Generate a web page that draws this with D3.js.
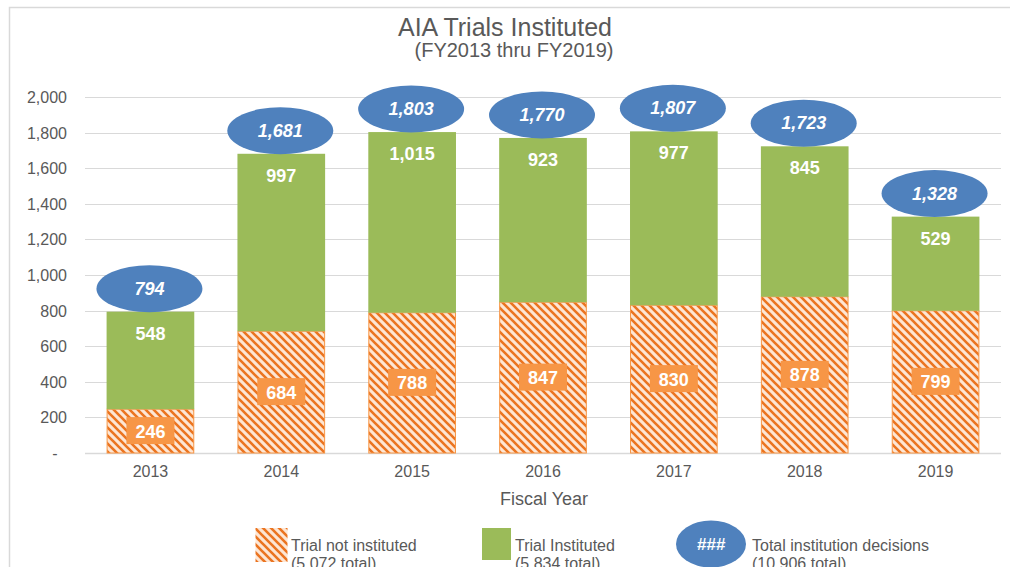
<!DOCTYPE html>
<html>
<head>
<meta charset="utf-8">
<script src="https://cdn.jsdelivr.net/npm/d3@7"></script>
<style>
  body { margin: 0; background: #fff; }
  svg { display: block; font-family: "Liberation Sans", Arial, sans-serif; }
</style>
</head>
<body>
<div id="chart"></div>
<script>
// data
var years = ["2013", "2014", "2015", "2016", "2017", "2018", "2019"];
var notInstituted = [246, 684, 788, 847, 830, 878, 799];
var instituted = [548, 997, 1015, 923, 977, 845, 529];
var totals = [794, 1681, 1803, 1770, 1807, 1723, 1328];
var yTicks = [0, 200, 400, 600, 800, 1000, 1200, 1400, 1600, 1800, 2000];
var legendItems = [
  {key: "not", line1: "Trial not instituted", line2: "(5,072 total)"},
  {key: "inst", line1: "Trial Instituted", line2: "(5,834 total)"},
  {key: "total", line1: "Total institution decisions", line2: "(10,906 total)"}
];

var W = 1010, H = 567;
var margin = {top: 97, right: 9, bottom: 114, left: 85};
var green = "#9bbb59", blue = "#4f81bd", orange = "#f79646",
    stripe = "#eb7420", peach = "#fde6d4", grid = "#d9d9d9", text = "#595959";

var svg = d3.select("#chart").append("svg")
  .attr("width", W)
  .attr("height", H);

var defs = svg.append("defs");
var pat = defs.append("pattern")
  .attr("id", "hatch")
  .attr("patternUnits", "userSpaceOnUse")
  .attr("width", 8)
  .attr("height", 8);
pat.append("rect").attr("width", 8).attr("height", 8).attr("fill", peach);
pat.append("path")
  .attr("d", "M-2,-2 L10,10 M-2,6 L2,10 M6,-2 L10,2")
  .attr("stroke", stripe)
  .attr("stroke-width", 2.6);

// outer frame
svg.append("rect")
  .attr("x", 9.5).attr("y", 7.5)
  .attr("width", W + 10).attr("height", H + 10)
  .attr("fill", "none")
  .attr("stroke", grid)
  .attr("stroke-width", 1.5);

// titles
svg.append("text")
  .attr("x", 505).attr("y", 36)
  .attr("text-anchor", "middle")
  .attr("font-size", 25)
  .attr("fill", text)
  .text("AIA Trials Instituted");
svg.append("text")
  .attr("x", 514).attr("y", 57)
  .attr("text-anchor", "middle")
  .attr("font-size", 20)
  .attr("fill", text)
  .text("(FY2013 thru FY2019)");

var x = d3.scaleBand()
  .domain(years)
  .range([margin.left, W - margin.right])
  .paddingInner(0.33)
  .paddingOuter(0.165);

var y = d3.scaleLinear()
  .domain([0, 2000])
  .range([H - margin.bottom, margin.top]);

// gridlines
svg.append("g")
  .selectAll("line")
  .data(yTicks)
  .join("line")
  .attr("x1", margin.left)
  .attr("x2", W - margin.right)
  .attr("y1", d => Math.round(y(d)) + 0.5)
  .attr("y2", d => Math.round(y(d)) + 0.5)
  .attr("stroke", grid)
  .attr("stroke-width", d => d == 0 ? 1.5 : 1);

// y axis labels
svg.append("g")
  .selectAll("text")
  .data(yTicks)
  .join("text")
  .attr("x", d => d == 0 ? 55 : 67)
  .attr("y", d => y(d) + 6)
  .attr("text-anchor", d => d == 0 ? "middle" : "end")
  .attr("font-size", 16)
  .attr("fill", text)
  .text(d => d == 0 ? "-" : d3.format(",")(d));

// x axis labels
svg.append("g")
  .selectAll("text")
  .data(years)
  .join("text")
  .attr("x", d => x(d) + x.bandwidth() / 2)
  .attr("y", 477)
  .attr("text-anchor", "middle")
  .attr("font-size", 16)
  .attr("fill", text)
  .text(d => d);

svg.append("text")
  .attr("x", 544).attr("y", 505)
  .attr("text-anchor", "middle")
  .attr("font-size", 18)
  .attr("fill", text)
  .text("Fiscal Year");

var bars = svg.append("g")
  .selectAll("g")
  .data(years)
  .join("g");

// trial not instituted (hatched)
bars.append("rect")
  .attr("x", d => x(d) + 0.5)
  .attr("y", (d, i) => y(notInstituted[i]))
  .attr("width", x.bandwidth() - 1)
  .attr("height", (d, i) => y(0) - y(notInstituted[i]))
  .attr("fill", "url(#hatch)")
  .attr("stroke", orange)
  .attr("stroke-width", 1);

// trial instituted
bars.append("rect")
  .attr("x", d => x(d))
  .attr("y", (d, i) => y(notInstituted[i] + instituted[i]))
  .attr("width", x.bandwidth())
  .attr("height", (d, i) => y(notInstituted[i]) - y(notInstituted[i] + instituted[i]))
  .attr("fill", green);

// labels for the hatched part
bars.append("rect")
  .attr("x", d => x(d) + x.bandwidth() / 2 - 24)
  .attr("y", (d, i) => (y(0) + y(notInstituted[i])) / 2 - 14)
  .attr("width", 48)
  .attr("height", 27)
  .attr("fill", orange);
bars.append("text")
  .attr("x", d => x(d) + x.bandwidth() / 2)
  .attr("y", (d, i) => (y(0) + y(notInstituted[i])) / 2 + 6.5)
  .attr("text-anchor", "middle")
  .attr("font-size", 18)
  .attr("font-weight", "bold")
  .attr("fill", "#fff")
  .text((d, i) => d3.format(",")(notInstituted[i]));

// labels for the green part
bars.append("text")
  .attr("x", d => x(d) + x.bandwidth() / 2)
  .attr("y", (d, i) => y(notInstituted[i] + instituted[i]) + 28)
  .attr("text-anchor", "middle")
  .attr("font-size", 18)
  .attr("font-weight", "bold")
  .attr("fill", "#fff")
  .text((d, i) => d3.format(",")(instituted[i]));

// total ellipses
bars.append("ellipse")
  .attr("cx", d => x(d) + x.bandwidth() / 2 - 1)
  .attr("cy", (d, i) => y(totals[i]) - 23)
  .attr("rx", 53)
  .attr("ry", 23.5)
  .attr("fill", blue);
bars.append("text")
  .attr("x", d => x(d) + x.bandwidth() / 2 - 1)
  .attr("y", (d, i) => y(totals[i]) - 17)
  .attr("text-anchor", "middle")
  .attr("font-size", 18)
  .attr("font-weight", "bold")
  .attr("font-style", "italic")
  .attr("fill", "#fff")
  .text((d, i) => d3.format(",")(totals[i]));

// legend
var legendX = [255, 482, 676];
var legend = svg.append("g")
  .selectAll("g")
  .data(legendItems)
  .join("g")
  .attr("transform", (d, i) => "translate(" + legendX[i] + ",0)");

legend.each(function(d) {
  var g = d3.select(this);
  var tx;
  if (d.key == "not") {
    g.append("rect").attr("x", 0.5).attr("y", 528).attr("width", 32).attr("height", 34)
      .attr("fill", "url(#hatch)");
    tx = 36;
  } else if (d.key == "inst") {
    g.append("rect").attr("x", 0).attr("y", 528).attr("width", 29).attr("height", 32)
      .attr("fill", green);
    tx = 33;
  } else {
    g.append("ellipse").attr("cx", 35).attr("cy", 544).attr("rx", 35).attr("ry", 23.5)
      .attr("fill", blue);
    g.append("text").attr("x", 35).attr("y", 550)
      .attr("text-anchor", "middle")
      .attr("font-size", 17).attr("font-weight", "bold").attr("font-style", "italic")
      .attr("fill", "#fff").text("###");
    tx = 76;
  }
  g.append("text").attr("x", tx).attr("y", 551)
    .attr("font-size", 16).attr("fill", text).text(d.line1);
  g.append("text").attr("x", tx).attr("y", 569)
    .attr("font-size", 16).attr("fill", text).text(d.line2);
});
</script>
</body>
</html>
